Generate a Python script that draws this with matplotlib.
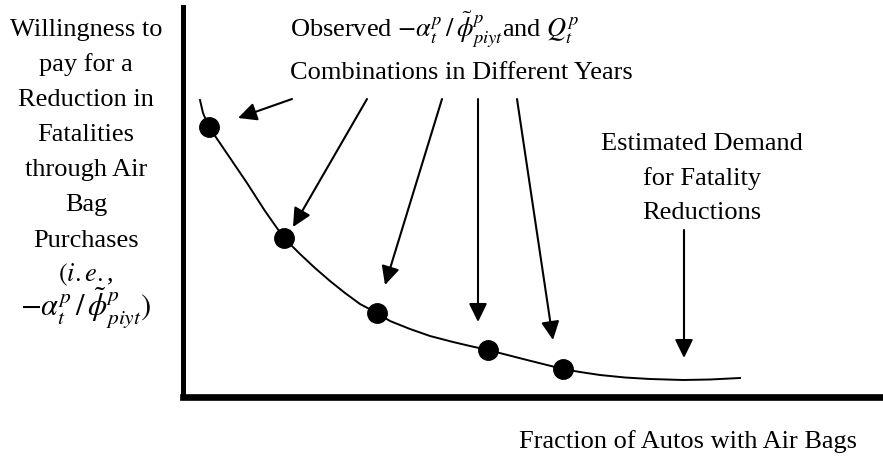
import matplotlib
matplotlib.use("Agg")
import matplotlib.pyplot as plt

plt.rcParams['font.family'] = ['Liberation Serif', 'DejaVu Serif']
plt.rcParams['mathtext.fontset'] = 'stix'

# demand curve, in pixel-ish units of the original
curve_px = [200, 203, 209, 228, 247, 265, 284, 300, 315, 330, 345, 360, 377,
            390, 410, 430, 453, 470, 488, 527, 563, 580, 600, 625, 650, 683, 710, 740]
curve_py = [100, 113, 127, 155, 183, 211, 238, 254, 268, 281, 293, 304, 313,
            321, 329, 336, 342, 346, 350, 360, 369, 372, 375, 377.5, 379, 380, 379.5, 378]

# observed combinations
obs_px = [209, 284, 377, 488, 563]
obs_py = [127, 238, 313, 350, 369]

# arrows: tail -> head
arrow_tail = [(292, 99), (367, 99), (442, 99), (478, 99), (517, 99), (684, 230)]
arrow_head = [(238, 118), (293, 227), (385, 285), (478, 322), (553, 340), (684, 358)]

ylabel_lines = ["Willingness to", "pay for a", "Reduction in", "Fatalities",
                "through Air", "Bag", "Purchases", r"$(i.e.$,",
                r"$-\alpha_t^p\,/\,\tilde{\phi}_{piyt}^p)$"]
top_lines = [r"Observed $-\alpha_t^p\,/\,\tilde{\phi}_{piyt}^p$and $Q_t^p$",
             "Combinations in Different Years"]
est_lines = ["Estimated Demand", "for Fatality", "Reductions"]
xlabel = "Fraction of Autos with Air Bags"

W, H = 883, 457
X0, Y0 = 182.5, 397
fig = plt.figure(figsize=(W / 100, H / 100), dpi=100)
ax = fig.add_axes([X0 / W, (H - Y0) / H, (W - X0) / W, (Y0 - 7) / H])
# axis in original pixel units, y pointing down
ax.set_xlim(X0, W)
ax.set_ylim(Y0, 7)
ax.set_xticks([])
ax.set_yticks([])
ax.spines['top'].set_visible(False)
ax.spines['right'].set_visible(False)
ax.spines['left'].set_linewidth(3.6)
ax.spines['bottom'].set_linewidth(4.8)

ax.plot(curve_px, curve_py, color='black', lw=1.4, solid_joinstyle='round')
ax.plot(obs_px, obs_py, 'o', color='black', ms=14)

for (tx, ty), (hx, hy) in zip(arrow_tail, arrow_head):
    ax.annotate("", xy=(hx, hy), xytext=(tx, ty),
                arrowprops=dict(arrowstyle='-|>,head_length=0.45,head_width=0.22',
                                mutation_scale=25, color='black', lw=1.5,
                                shrinkA=0, shrinkB=0))


def px(x, y):
    return x / W, 1 - y / H


fs = 19
for i, s in enumerate(ylabel_lines):
    size = 22 if i == len(ylabel_lines) - 1 else fs
    fig.text(*px(86, 36 + 35.1 * i), s, ha='center', va='baseline', fontsize=size)
for y, s in zip([37, 79], top_lines):
    fig.text(*px(290, y), s, ha='left', va='baseline', fontsize=fs)
for i, s in enumerate(est_lines):
    fig.text(*px(702, 150 + 34.5 * i), s, ha='center', va='baseline', fontsize=fs)
fig.text(*px(688, 448), xlabel, ha='center', va='baseline', fontsize=fs)

fig.savefig("out.png", dpi=100)
